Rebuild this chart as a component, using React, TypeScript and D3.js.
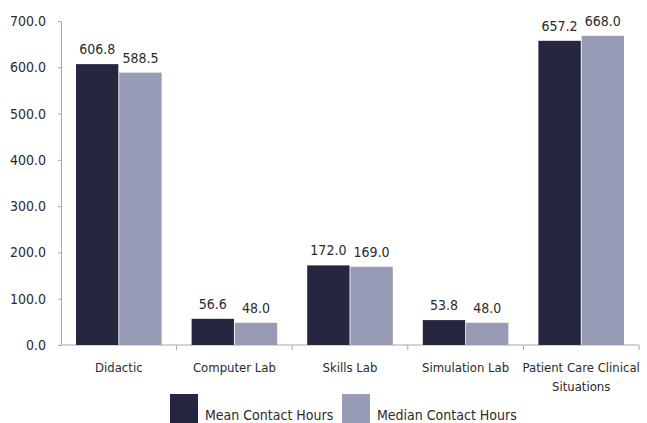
import React, { useRef, useEffect } from 'react';
import * as d3 from 'd3';

const categories = ['Didactic', 'Computer Lab', 'Skills Lab', 'Simulation Lab', 'Patient Care Clinical Situations'];
const meanHours = [606.8, 56.6, 172.0, 53.8, 657.2];
const medianHours = [588.5, 48.0, 169.0, 48.0, 668.0];
const seriesNames = ['Mean Contact Hours', 'Median Contact Hours'];
const seriesColors = ['#25263f', '#989bb6'];
const yTicks = [0, 100, 200, 300, 400, 500, 600, 700];

const W = 647;
const H = 423;
const FONT = '"DejaVu Sans Condensed", "DejaVu Sans", sans-serif';

const App: React.FC = () => {
  const ref = useRef<SVGSVGElement | null>(null);

  useEffect(() => {
    if (!ref.current) return;
    const svg = d3.select(ref.current);
    svg.selectAll('*').remove();

    const left = 61;
    const right = 639;
    const top = 21;
    const bottom = 345;

    const x = d3.scaleBand().domain(categories).range([left, right]);
    const inner = d3.scaleBand().domain(seriesNames).range([15, x.bandwidth() - 15]).paddingInner(0.02);
    const y = d3.scaleLinear().domain([0, 700]).range([bottom, top]);

    const g = svg.append('g').style('font-family', FONT).style('font-stretch', 'condensed');

    // y axis
    const yAxis = g
      .append('g')
      .attr('transform', `translate(${left},0)`)
      .call(d3.axisLeft(y).tickValues(yTicks).tickSize(3).tickSizeOuter(0).tickFormat(d3.format('.1f')));
    yAxis.select('.domain').attr('stroke', '#a6a6a6');
    yAxis.selectAll('.tick line').attr('stroke', '#a6a6a6');
    yAxis
      .selectAll('.tick text')
      .attr('x', -15)
      .attr('fill', '#2b2b2b')
      .style('font-size', '14px')
      .style('font-family', FONT)
      .style('font-stretch', 'condensed');

    // x axis
    const xAxis = g.append('g').attr('transform', `translate(0,${bottom})`);
    xAxis.append('line').attr('x1', left).attr('x2', right).attr('stroke', '#a6a6a6');
    const boundaries = categories.map((c) => (x(c) as number) + x.bandwidth());
    xAxis
      .selectAll('line.tk')
      .data(boundaries)
      .enter()
      .append('line')
      .attr('class', 'tk')
      .attr('x1', (d) => d)
      .attr('x2', (d) => d)
      .attr('y1', 0)
      .attr('y2', 5)
      .attr('stroke', '#a6a6a6');

    // bars
    const groups = g
      .selectAll('g.cat')
      .data(categories)
      .enter()
      .append('g')
      .attr('class', 'cat')
      .attr('transform', (c) => `translate(${x(c)},0)`);

    const values = [meanHours, medianHours];
    seriesNames.forEach((s, si) => {
      groups
        .append('rect')
        .attr('x', inner(s) as number)
        .attr('width', inner.bandwidth())
        .attr('y', (_, i) => y(values[si][i]))
        .attr('height', (_, i) => bottom - y(values[si][i]))
        .attr('fill', seriesColors[si]);
      groups
        .append('text')
        .attr('x', (inner(s) as number) + inner.bandwidth() / 2)
        .attr('y', (_, i) => y(values[si][i]) - 10)
        .attr('text-anchor', 'middle')
        .attr('fill', '#2b2b2b')
        .style('font-size', '14px')
        .text((_, i) => values[si][i].toFixed(1));
    });

    // category labels
    groups
      .append('text')
      .attr('x', x.bandwidth() / 2)
      .attr('y', bottom + 27)
      .attr('text-anchor', 'middle')
      .attr('fill', '#2b2b2b')
      .style('font-size', '13px')
      .each(function (c) {
        const t = d3.select(this);
        const lines = c === 'Patient Care Clinical Situations' ? ['Patient Care Clinical', 'Situations'] : [c];
        lines.forEach((ln, li) => {
          t.append('tspan').attr('x', x.bandwidth() / 2).attr('dy', li === 0 ? 0 : 19).text(ln);
        });
      });

    // legend
    const legendX = [170, 342];
    const legend = g
      .selectAll('g.leg')
      .data(seriesNames)
      .enter()
      .append('g')
      .attr('class', 'leg')
      .attr('transform', (_, i) => `translate(${legendX[i]},394)`);
    legend
      .append('rect')
      .attr('width', 28)
      .attr('height', 30)
      .attr('fill', (_, i) => seriesColors[i]);
    legend
      .append('text')
      .attr('x', 35)
      .attr('y', 26)
      .attr('fill', '#2b2b2b')
      .style('font-size', '14px')
      .text((d) => d);
  }, []);

  return (
    <svg
      ref={ref}
      width={W}
      height={H}
      style={{ position: 'absolute', left: 0, top: 0, background: '#fff' }}
    ></svg>
  );
};

export default App;
